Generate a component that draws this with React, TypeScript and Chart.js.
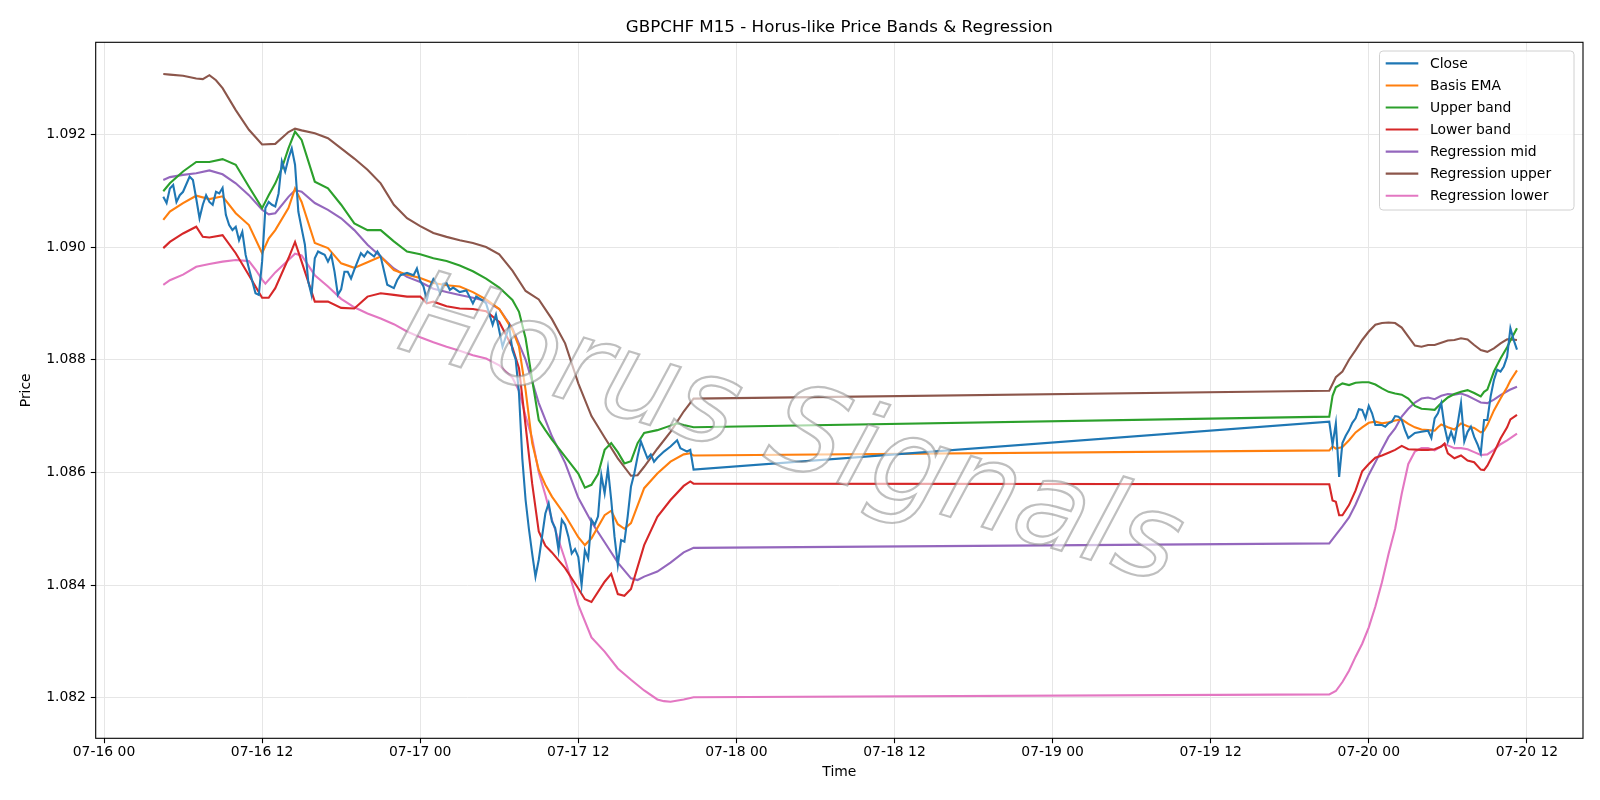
import React, { useEffect, useRef } from 'react';
import { Chart, registerables } from 'chart.js';

Chart.register(...registerables);

// time values are hours since 07-16 00:00
const closeT = [4.5,4.75,5,5.25,5.5,5.75,6,6.5,6.75,7,7.25,7.5,7.75,8,8.25,8.5,8.75,9,9.25,9.5,9.75,10,10.25,10.5,10.75,11,11.5,11.75,12,12.25,12.5,12.75,13,13.25,13.5,13.75,14,14.25,14.5,14.75,15,15.25,15.5,15.75,16,16.25,16.5,16.75,17,17.25,17.5,17.75,18,18.25,18.5,18.75,19,19.5,19.75,20,20.5,20.75,21,21.5,22,22.25,22.5,23,23.5,23.75,24,24.25,24.5,24.75,25,25.25,25.5,25.75,26,26.25,26.5,27,27.5,28,28.25,28.75,29,29.5,29.75,30.25,30.75,31,31.25,31.5,31.75,32,32.25,32.5,32.75,33,33.25,33.5,33.75,34,34.25,34.5,34.75,35,35.25,35.5,35.75,36,36.25,36.5,36.75,37,37.25,37.5,37.75,38,38.25,38.5,38.75,39,39.25,39.5,39.75,40,40.25,40.5,40.75,41,41.25,41.5,41.75,42,42.5,43,43.5,43.75,44,44.25,44.5,44.75,
  93,93.25,93.5,93.75,94,94.25,94.5,94.75,95,95.25,95.5,95.75,96,96.25,96.5,96.75,97,97.25,97.5,97.75,98,98.25,98.5,98.75,99,99.5,100,100.5,100.75,101,101.25,101.5,101.75,102,102.25,102.5,102.75,103,103.25,103.5,103.75,104,104.25,104.5,104.75,105,105.25,105.5,105.75,106,106.25,106.5,106.75,107,107.25];
const closeV = [1.09089,1.09078,1.09104,1.0911,1.0908,1.09092,1.09098,1.09125,1.09119,1.09086,1.09051,1.09075,1.09092,1.0908,1.09075,1.09098,1.09095,1.09105,1.09057,1.09039,1.0903,1.09036,1.09012,1.09027,1.08986,1.08962,1.08918,1.08915,1.08974,1.09069,1.0908,1.09075,1.09072,1.09095,1.09152,1.09134,1.09157,1.09175,1.09146,1.09063,1.09033,1.09004,1.08939,1.08915,1.0898,1.08992,1.08989,1.08986,1.08974,1.08986,1.08956,1.08915,1.08925,1.08956,1.08956,1.08944,1.0896,1.08989,1.08983,1.08992,1.08983,1.08992,1.08983,1.08933,1.08927,1.08941,1.0895,1.08954,1.0895,1.08962,1.0894,1.0893,1.08906,1.0893,1.08943,1.08935,1.08918,1.08935,1.08936,1.08924,1.08928,1.0892,1.08923,1.089,1.08912,1.08905,1.089,1.08862,1.0888,1.08823,1.08859,1.08817,1.088,1.0874,1.08625,1.08551,1.085,1.08456,1.08415,1.08445,1.08486,1.08527,1.08545,1.08513,1.08501,1.08462,1.08516,1.08507,1.08486,1.08456,1.08464,1.0845,1.084,1.08462,1.08447,1.08516,1.08507,1.08522,1.08595,1.08563,1.08607,1.08551,1.08486,1.08436,1.0848,1.08477,1.08522,1.08575,1.08598,1.08628,1.08655,1.0864,1.08625,1.08632,1.08619,1.08626,1.08637,1.08646,1.08657,1.08643,1.0864,1.08637,1.0864,1.08605,
  1.0869,1.08649,1.08687,1.08592,1.08652,1.08665,1.08675,1.08688,1.08696,1.08712,1.08711,1.08696,1.08718,1.08705,1.08684,1.08684,1.08684,1.08681,1.08687,1.0869,1.087,1.08699,1.08693,1.08675,1.08661,1.0867,1.08672,1.08674,1.08661,1.08696,1.08705,1.08723,1.08681,1.08655,1.08672,1.08655,1.08687,1.08723,1.08655,1.08672,1.08681,1.08663,1.0865,1.08634,1.08693,1.08693,1.08735,1.08764,1.08782,1.08779,1.08788,1.08805,1.08856,1.08835,1.08818];

const emaT = [4.5,5,6,7,8,9,10,11,12,12.5,13,14,14.5,15,16,17,18,19,20,21,22,23,24,25,26,27,28,29,30,31,31.5,32,32.5,33,33.5,34,35,36,36.5,37,38,38.5,39,39.5,40,41,42,43,44,44.5,44.75,
  93,93.25,93.5,94,94.5,95,95.5,96,96.5,97,97.5,98,98.5,99,99.5,100,100.5,101,101.25,101.5,102,102.5,103,103.5,104,104.5,104.75,105,105.5,106,106.5,106.75,107.25];
const emaV = [1.09048,1.09063,1.09078,1.09091,1.09085,1.0909,1.0906,1.09039,1.08989,1.09015,1.0903,1.09069,1.09104,1.0908,1.09007,1.08998,1.08971,1.08963,1.08973,1.08983,1.08959,1.08951,1.08945,1.08936,1.08932,1.0893,1.0892,1.08907,1.0889,1.08853,1.08823,1.08746,1.08652,1.08604,1.08578,1.08557,1.08524,1.08485,1.08471,1.08483,1.08524,1.08532,1.08508,1.085,1.0851,1.08572,1.08598,1.08619,1.08632,1.08634,1.0863,
  1.08639,1.08646,1.08642,1.08645,1.08657,1.08671,1.0868,1.08688,1.0869,1.08687,1.08689,1.08692,1.08694,1.08686,1.0868,1.08676,1.08675,1.08674,1.0868,1.08685,1.0868,1.08676,1.08687,1.08682,1.08679,1.08671,1.08674,1.08684,1.0871,1.08731,1.08751,1.08763,1.08781];

const upperT = [4.5,5,6,7,8,9,10,11,12,12.5,13,13.5,14,14.5,15,16,17,18,19,20,21,22,23,24,25,26,27,28,29,30,31,31.5,32,32.5,33,33.5,34,35,36,36.5,37,37.5,38,38.5,39,39.5,40,40.5,41,42,43,43.5,44,44.75,
  93,93.25,93.5,94,94.5,95,95.5,96,96.5,97,97.5,98,98.5,99,99.5,100,100.5,101,101.5,102,102.5,103,103.5,104,104.5,104.75,105,105.5,106,106.5,106.75,107.25];
const upperV = [1.09099,1.09113,1.09134,1.09151,1.09151,1.09156,1.09146,1.09107,1.09069,1.09092,1.09113,1.0914,1.09175,1.09205,1.0919,1.09116,1.09104,1.09075,1.09042,1.0903,1.0903,1.0901,1.08992,1.08987,1.0898,1.08975,1.08967,1.08957,1.08944,1.08928,1.08906,1.08885,1.08838,1.08764,1.08693,1.08675,1.08658,1.08628,1.08598,1.08573,1.08578,1.08597,1.0864,1.08652,1.08636,1.08616,1.0862,1.08652,1.0867,1.08675,1.08683,1.08687,1.08684,1.0868,
  1.08699,1.08736,1.08751,1.08758,1.08755,1.08759,1.0876,1.0876,1.08756,1.08749,1.08743,1.0874,1.08738,1.08731,1.08718,1.08713,1.08712,1.08711,1.08723,1.08733,1.08739,1.08743,1.08746,1.08741,1.08735,1.08743,1.08747,1.08779,1.08802,1.08822,1.08834,1.08856];

const lowerT = [4.5,5,6,7,7.5,8,9,10,11,12,12.5,13,14,14.5,15,16,17,18,19,20,21,22,23,24,24.5,25,26,27,28,29,30,31,31.5,32,32.5,33,33.5,34,35,36,36.5,37,38,38.5,39,39.5,40,41,42,43,44,44.5,44.75,
  93,93.25,93.5,93.75,94,94.5,95,95.5,96,96.5,97,97.5,98,98.5,99,100,100.5,101,101.5,101.75,102,102.5,103,103.5,104,104.5,104.75,105,105.5,106,106.5,106.75,107.25];
const lowerV = [1.08998,1.09009,1.09024,1.09036,1.09018,1.09017,1.09021,1.08989,1.0895,1.0891,1.0891,1.08927,1.0898,1.09009,1.08974,1.08903,1.08903,1.08892,1.08891,1.08912,1.08918,1.08915,1.08912,1.08912,1.089,1.08903,1.08895,1.08891,1.0889,1.08886,1.08867,1.08822,1.08785,1.08683,1.0858,1.08495,1.0847,1.08458,1.0843,1.08394,1.08375,1.0837,1.08406,1.0842,1.08384,1.08381,1.08393,1.08471,1.08521,1.08551,1.08576,1.08584,1.0858,
  1.08579,1.0855,1.08548,1.08524,1.08524,1.08542,1.08568,1.08602,1.08615,1.08626,1.0863,1.08635,1.0864,1.08647,1.08641,1.0864,1.0864,1.08641,1.08646,1.08651,1.08634,1.08625,1.0863,1.08621,1.08618,1.08605,1.08604,1.08612,1.08635,1.0866,1.0868,1.08694,1.08702];

const regMidT = [4.5,5,6,7,8,9,10,11,12,12.5,13,14,14.5,15,16,17,18,19,20,21,22,23,24,25,26,27,28,29,30,31,32,33,34,35,36,37,38,39,40,40.5,41,42,43,44,44.75,
  93,93.5,94,94.5,95,95.5,96,96.5,97,97.5,98,98.5,99,99.5,100,100.5,101,101.5,102,102.5,103,103.5,104,104.5,105,105.5,106,106.5,106.75,107.25];
const regMidV = [1.09119,1.09124,1.09128,1.09131,1.09136,1.09129,1.09113,1.09092,1.09066,1.09058,1.0906,1.09089,1.09101,1.09098,1.09078,1.09066,1.09051,1.0903,1.09004,1.08983,1.08962,1.08947,1.08938,1.08926,1.0892,1.08915,1.0891,1.08904,1.0889,1.08856,1.088,1.08723,1.08664,1.08617,1.08555,1.08512,1.08476,1.0844,1.08412,1.08409,1.08415,1.08424,1.0844,1.08458,1.08466,
  1.08474,1.08489,1.08504,1.0852,1.08543,1.0857,1.08596,1.08618,1.08641,1.08663,1.08678,1.08699,1.08713,1.08724,1.08731,1.08733,1.0873,1.08736,1.08739,1.08738,1.0874,1.08736,1.0873,1.08724,1.08723,1.08729,1.08737,1.08744,1.08747,1.08752];

const regUpperT = [4.5,5,6,7,7.5,8,8.5,9,10,11,12,13,14,14.5,15,16,17,18,19,20,21,22,23,24,25,26,27,28,29,30,31,32,33,34,35,36,37,38,39,40,40.5,41,42,43,44,44.75,
  93,93.5,94,94.5,95,95.5,96,96.5,97,97.5,98,98.5,99,99.5,100,100.5,101,101.5,102,102.5,103,103.5,104,104.5,105,105.5,106,106.5,106.75,107.25];
const regUpperV = [1.09307,1.09306,1.09304,1.09299,1.09298,1.09305,1.09296,1.09282,1.09243,1.09208,1.09182,1.09183,1.09204,1.0921,1.09207,1.09202,1.09193,1.09175,1.09157,1.09137,1.09113,1.09075,1.09051,1.09037,1.09025,1.09018,1.09012,1.09007,1.09,1.08987,1.08958,1.08922,1.08907,1.08872,1.08829,1.08758,1.087,1.08662,1.08625,1.08594,1.08595,1.0861,1.08642,1.08672,1.08708,1.08731,
  1.08745,1.08769,1.08779,1.088,1.08817,1.08835,1.0885,1.08862,1.08865,1.08866,1.08865,1.08857,1.08841,1.08825,1.08823,1.08826,1.08826,1.0883,1.08834,1.08835,1.08838,1.08836,1.08826,1.08817,1.08814,1.0882,1.08829,1.08836,1.08836,1.08835];

const regLowerT = [4.5,5,6,7,8,9,10,11,11.5,12,12.25,13,14,14.5,15,16,17,18,19,20,21,22,23,24,25,26,27,28,29,30,31,31.5,32,32.5,33,33.5,34,34.5,35,36,37,38,39,40,41,42,42.5,43,44,44.75,
  93,93.5,94,94.5,95,95.5,96,96.5,97,97.5,98,98.5,99,99.5,100,100.5,101,101.5,101.75,102,102.5,103,103.5,104,104.5,105,105.5,106,106.5,106.75,107.25];
const regLowerV = [1.08933,1.08941,1.08951,1.08965,1.0897,1.08974,1.08977,1.08975,1.0896,1.08942,1.08935,1.08955,1.08977,1.08988,1.08985,1.0895,1.0893,1.08908,1.08893,1.08882,1.08873,1.08863,1.0885,1.0884,1.08831,1.08823,1.08816,1.08808,1.08802,1.0879,1.08768,1.08745,1.087,1.0866,1.086,1.0856,1.08516,1.0848,1.08445,1.08365,1.08307,1.08282,1.08252,1.08232,1.08213,1.08197,1.08194,1.08193,1.08197,1.08201,
  1.08206,1.08212,1.08228,1.08248,1.08273,1.08296,1.08325,1.08362,1.08405,1.08455,1.085,1.08562,1.08615,1.08637,1.08643,1.08643,1.08639,1.08646,1.08651,1.08648,1.08643,1.08643,1.08641,1.08636,1.08631,1.08632,1.0864,1.0865,1.08657,1.08661,1.08669];

const seriesNames = ['Close', 'Basis EMA', 'Upper band', 'Lower band', 'Regression mid', 'Regression upper', 'Regression lower'];
const seriesColors = ['#1f77b4', '#ff7f0e', '#2ca02c', '#d62728', '#9467bd', '#8c564b', '#e377c2'];

const xTickHours = [0, 12, 24, 36, 48, 60, 72, 84, 96, 108];
const xTickLabels = ['07-16 00', '07-16 12', '07-17 00', '07-17 12', '07-18 00', '07-18 12', '07-19 00', '07-19 12', '07-20 00', '07-20 12'];
const yTickValues = [1.082, 1.084, 1.086, 1.088, 1.09, 1.092];
const yTickLabels = ['1.082', '1.084', '1.086', '1.088', '1.090', '1.092'];

const chartTitle = 'GBPCHF M15 - Horus-like Price Bands & Regression';
const watermarkText = 'Horus Signals';

const FONT = '"DejaVu Sans", "Liberation Sans", sans-serif';

function pts(t: number[], v: number[]) {
  return t.map((x, i) => ({ x, y: v[i] }));
}

const decorPlugin = {
  id: 'decor',
  afterDatasetsDraw(chart: any) {
    const ctx = chart.ctx;
    ctx.save();
    ctx.translate(790, 436);
    ctx.rotate((17 * Math.PI) / 180);
    ctx.font = `italic 118px ${FONT}`;
    ctx.textAlign = 'center';
    ctx.textBaseline = 'middle';
    ctx.fillStyle = 'rgba(255,255,255,0.6)';
    ctx.fillText(watermarkText, 0, 0);
    ctx.lineWidth = 2.2;
    ctx.strokeStyle = 'rgba(128,128,128,0.5)';
    ctx.strokeText(watermarkText, 0, 0);
    ctx.restore();
  },
  afterDraw(chart: any) {
    const ctx = chart.ctx;
    const a = chart.chartArea;
    ctx.save();
    // frame
    ctx.strokeStyle = '#000';
    ctx.lineWidth = 1.1;
    ctx.strokeRect(a.left, a.top, a.right - a.left, a.bottom - a.top);
    // title
    ctx.fillStyle = '#000';
    ctx.font = `16.7px ${FONT}`;
    ctx.textAlign = 'center';
    ctx.textBaseline = 'alphabetic';
    ctx.fillText(chartTitle, (a.left + a.right) / 2, 31.5);
    // legend
    const lx = 1379.5, ly = 51, lw = 194.5, lh = 159;
    ctx.beginPath();
    const r = 3.5;
    ctx.moveTo(lx + r, ly);
    ctx.lineTo(lx + lw - r, ly);
    ctx.quadraticCurveTo(lx + lw, ly, lx + lw, ly + r);
    ctx.lineTo(lx + lw, ly + lh - r);
    ctx.quadraticCurveTo(lx + lw, ly + lh, lx + lw - r, ly + lh);
    ctx.lineTo(lx + r, ly + lh);
    ctx.quadraticCurveTo(lx, ly + lh, lx, ly + lh - r);
    ctx.lineTo(lx, ly + r);
    ctx.quadraticCurveTo(lx, ly, lx + r, ly);
    ctx.closePath();
    ctx.fillStyle = 'rgba(255,255,255,0.8)';
    ctx.fill();
    ctx.strokeStyle = '#d0d0d0';
    ctx.lineWidth = 1;
    ctx.stroke();
    ctx.font = `13.9px ${FONT}`;
    ctx.textAlign = 'left';
    ctx.textBaseline = 'middle';
    seriesNames.forEach((name, i) => {
      const y = 63.4 + i * 22.05;
      ctx.strokeStyle = seriesColors[i];
      ctx.lineWidth = 2.1;
      ctx.beginPath();
      ctx.moveTo(1385.7, y);
      ctx.lineTo(1418.3, y);
      ctx.stroke();
      ctx.fillStyle = '#000';
      ctx.fillText(name, 1430, y + 0.5);
    });
    ctx.restore();
  },
};

export default function App() {
  const ref = useRef<HTMLCanvasElement | null>(null);
  useEffect(() => {
    if (!ref.current) return;
    const seriesData = [
      pts(closeT, closeV),
      pts(emaT, emaV),
      pts(upperT, upperV),
      pts(lowerT, lowerV),
      pts(regMidT, regMidV),
      pts(regUpperT, regUpperV),
      pts(regLowerT, regLowerV),
    ];
    const gridColor = '#e6e6e6';
    const chart = new Chart(ref.current, {
      type: 'line',
      data: {
        datasets: seriesData.map((d, i) => ({
          label: seriesNames[i],
          data: d,
          borderColor: seriesColors[i],
          backgroundColor: seriesColors[i],
          borderWidth: 2.1,
          pointRadius: 0,
          tension: 0,
          fill: false,
        })),
      },
      options: {
        responsive: false,
        maintainAspectRatio: false,
        animation: false,
        events: [],
        layout: { padding: { left: 0, right: 17, top: 42.3, bottom: 0 } },
        plugins: {
          legend: { display: false },
          title: { display: false },
          tooltip: { enabled: false },
        },
        scales: {
          x: {
            type: 'linear',
            min: -0.63,
            max: 112.26,
            afterBuildTicks: (axis: any) => {
              axis.ticks = xTickHours.map((v) => ({ value: v }));
            },
            afterFit: (s: any) => {
              s.height = 61.7;
            },
            grid: { color: gridColor, lineWidth: 1, tickColor: '#000', tickLength: 4.9, tickWidth: 1.1 },
            border: { display: false },
            ticks: {
              autoSkip: false,
              maxRotation: 0,
              padding: 0.5,
              color: '#000',
              font: { family: FONT, size: 13.9 },
              callback: (_v: any, i: number) => xTickLabels[i],
            },
            title: {
              display: true,
              text: 'Time',
              color: '#000',
              font: { family: FONT, size: 13.9 },
              padding: { top: 0, bottom: 19.7 },
            },
          },
          y: {
            type: 'linear',
            min: 1.081281,
            max: 1.093633,
            afterBuildTicks: (axis: any) => {
              axis.ticks = yTickValues.map((v) => ({ value: v }));
            },
            afterFit: (s: any) => {
              s.width = 95.7;
            },
            grid: { color: gridColor, lineWidth: 1, tickColor: '#000', tickLength: 4.9, tickWidth: 1.1 },
            border: { display: false },
            ticks: {
              padding: 4.9,
              color: '#000',
              font: { family: FONT, size: 13.9 },
              callback: (_v: any, i: number) => yTickLabels[i],
            },
            title: {
              display: true,
              text: 'Price',
              color: '#000',
              font: { family: FONT, size: 13.9 },
              padding: { top: 17.7, bottom: 0 },
            },
          },
        },
      },
      plugins: [decorPlugin],
    } as any);
    return () => chart.destroy();
  }, []);
  return (
    <div style={{ position: 'fixed', left: 0, top: 0, width: 1600, height: 800, background: '#fff' }}>
      <canvas ref={ref} width={1600} height={800} style={{ display: 'block', width: 1600, height: 800 }} />
    </div>
  );
}
